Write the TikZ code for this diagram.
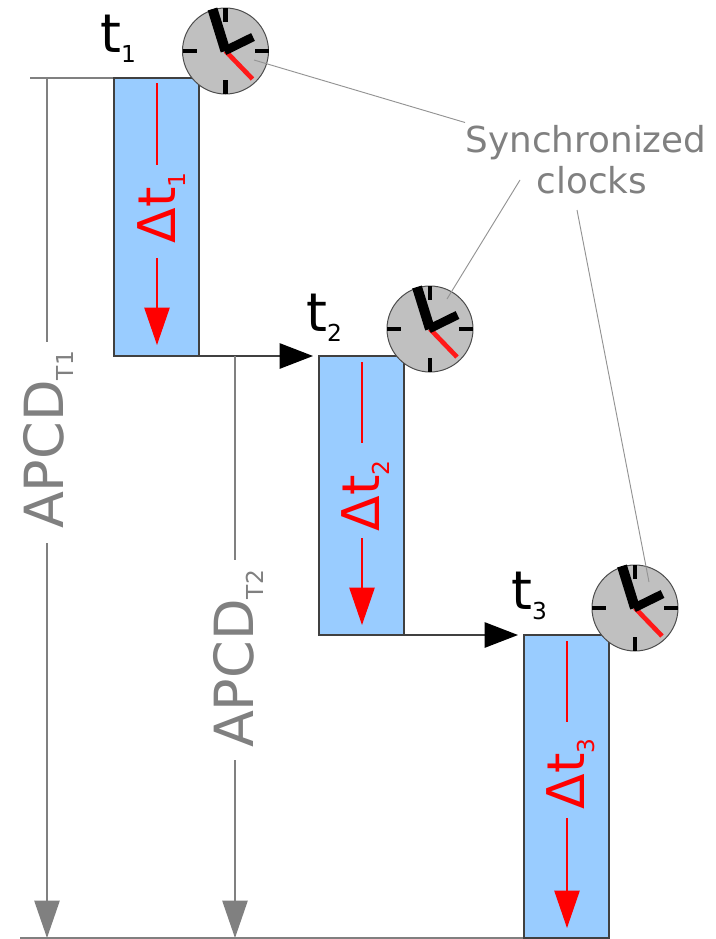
\documentclass[tikz,border=0pt]{standalone}
\usepackage{fontspec}
\setmainfont{DejaVu Sans}
\usepackage{tikz}
\usetikzlibrary{arrows.meta}

\definecolor{boxblue}{HTML}{99CCFF}
\definecolor{clockgray}{HTML}{C0C0C0}
\definecolor{notegray}{HTML}{808080}
\newcommand{\subtext}[1]{\raisebox{-8pt}{\fontsize{17.5}{17.5}\selectfont #1}}
\tikzset{
  intervalbox/.style = {draw = black!75, line width = 1.2pt, fill = boxblue, anchor = north west, outer sep = 0pt, minimum width = 63.75pt, inner sep = 0pt},
  clockface/.style = {draw = black!70, line width = 0.75pt, fill = clockgray, circle, minimum size = 64.5pt, inner sep = 0pt},
  timelabel/.style = {font = \fontsize{40}{40}\selectfont, anchor = base west, inner sep = 0pt},
  deltalabel/.style = {font = \fontsize{39}{39}\selectfont, text = red, rotate = 90, anchor = base, inner sep = 0pt},
  apcdlabel/.style = {font = \fontsize{40.5}{40.5}\selectfont, text = notegray, rotate = 90, anchor = base, inner sep = 0pt},
  redline/.style = {draw = red, line width = 0.9pt},
  redarrow/.style = {redline, -{Triangle[length = 28pt, width = 19pt]}},
  grayline/.style = {draw = notegray, line width = 1pt},
  grayarrow/.style = {grayline, -{Triangle[length = 28pt, width = 19pt]}},
  steparrow/.style = {draw = black!75, line width = 1.2pt, -{Triangle[length = 25pt, width = 19pt, fill = black, color = black]}, shorten > = 4.5pt},
  notetext/.style = {font = \fontsize{26.8}{26.8}\selectfont, text = notegray, anchor = base, inner sep = 0pt},
  noteline/.style = {draw = notegray!85!white, line width = 0.7pt}
}

\begin{document}
\begin{tikzpicture}[x = 0.75pt, y = -0.75pt]
\useasboundingbox (0,0) rectangle (715,939);

\coordinate (base1) at (20,938);
\coordinate (base2) at (524,938);
\coordinate (top1) at (30,78);

\draw[grayline] (top1) -- (114,78);
\draw[grayline] (base1) -- (base2);

\node[intervalbox, minimum height = 208.5pt] (box1) at (114,78) {};
\node[intervalbox, minimum height = 209.25pt] (box2) at (319,356) {};
\node[intervalbox, minimum height = 227.25pt] (box3) at (524,635) {};

\draw[steparrow] (box1.south east) -- (box2.north west);
\draw[steparrow] (box2.south east) -- (box3.north west);

\foreach \n/\cx/\cy in {1/225.5/51, 2/430/329, 3/635/608} {
  \node[clockface] (clock\n) at (\cx,\cy) {};
  \begin{scope}[shift = {(\cx,\cy)}]
    \draw[line width = 3.5pt] (0,-43) -- (0,-29);
    \draw[line width = 3.5pt] (0,43) -- (0,29);
    \draw[line width = 3.5pt] (-43,0) -- (-29,0);
    \draw[line width = 3.5pt] (43,0) -- (29,0);
    \draw[draw = red!90!white, line width = 3.5pt] (0,0) -- (27,28);
    \draw[line width = 7.5pt] (-13,-42) -- (0,0);
    \draw[line width = 6.5pt] (-1,0) -- (27.5,-14);
  \end{scope}
}

\node[timelabel] (t1) at (100,52) {t\subtext{1}};
\node[timelabel] (t2) at (306,331) {t\subtext{2}};
\node[timelabel] (t3) at (511,609) {t\subtext{3}};

% red intervals
\coordinate (r1a) at (157,83);
\coordinate (r1b) at (157,165);
\coordinate (r1c) at (157,258);
\coordinate (r1d) at (157,345);
\coordinate (r2a) at (362,362);
\coordinate (r2b) at (362,443);
\coordinate (r2c) at (362,538);
\coordinate (r2d) at (362,625);
\coordinate (r3a) at (567,641);
\coordinate (r3b) at (567,722);
\coordinate (r3c) at (567,818);
\coordinate (r3d) at (567,928);
\node[deltalabel] (d1) at (175,208) {Δt\subtext{1}};
\node[deltalabel] (d2) at (379,496) {Δt\subtext{2}};
\node[deltalabel] (d3) at (584,774) {Δt\subtext{3}};
\draw[redline] (r1a) -- (r1b);
\draw[redarrow] (r1c) -- (r1d);
\draw[redline] (r2a) -- (r2b);
\draw[redarrow] (r2c) -- (r2d);
\draw[redline] (r3a) -- (r3b);
\draw[redarrow] (r3c) -- (r3d);

% gray spans
\coordinate (a1a) at (47,78);
\coordinate (a1b) at (47,342);
\coordinate (a1c) at (47,543);
\coordinate (a1d) at (47,938);
\coordinate (a2a) at (235,356);
\coordinate (a2b) at (235,560);
\coordinate (a2c) at (235,760);
\coordinate (a2d) at (235,938);
\node[apcdlabel] (apcd1) at (63,440) {APCD\subtext{T1}};
\node[apcdlabel] (apcd2) at (253,659) {APCD\subtext{T2}};
\draw[grayline] (a1a) -- (a1b);
\draw[grayarrow] (a1c) -- (a1d);
\draw[grayline] (a2a) -- (a2b);
\draw[grayarrow] (a2c) -- (a2d);

% note
\node[notetext] (sync) at (586,152) {Synchronized};
\node[notetext] (clocks) at (592,193) {clocks};
\coordinate (n1a) at (465,122.5);
\coordinate (n1) at (254,60);
\coordinate (n2a) at (520,180);
\coordinate (n2) at (447,299);
\coordinate (n3a) at (577,210);
\coordinate (n3) at (649,582);
\draw[noteline] (n1a) -- (n1);
\draw[noteline] (n2a) -- (n2);
\draw[noteline] (n3a) -- (n3);
\end{tikzpicture}
\end{document}
